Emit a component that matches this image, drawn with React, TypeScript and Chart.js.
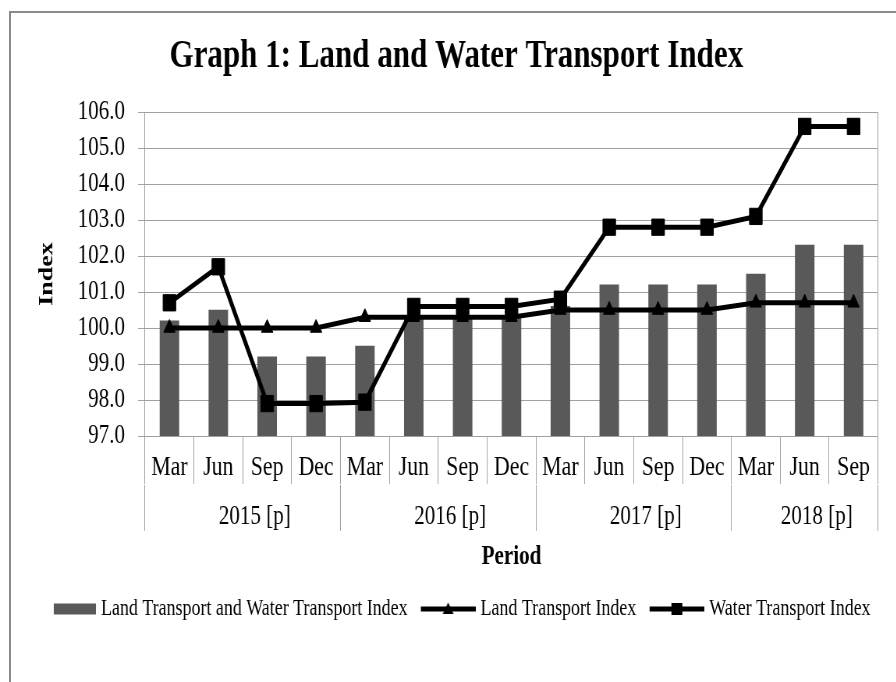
import React, { useEffect, useRef } from 'react';
import { Chart, registerables } from 'chart.js';

Chart.register(...registerables);

// ---------- data ----------
const months = ['Mar', 'Jun', 'Sep', 'Dec', 'Mar', 'Jun', 'Sep', 'Dec', 'Mar', 'Jun', 'Sep', 'Dec', 'Mar', 'Jun', 'Sep'];
const years = ['2015 [p]', '2016 [p]', '2017 [p]', '2018 [p]'];
const monthsPerYear = [4, 4, 4, 3];
const combinedIndex = [100.2, 100.5, 99.2, 99.2, 99.5, 100.3, 100.3, 100.3, 100.6, 101.2, 101.2, 101.2, 101.5, 102.3, 102.3];
const landIndex = [100.0, 100.0, 100.0, 100.0, 100.3, 100.3, 100.3, 100.3, 100.5, 100.5, 100.5, 100.5, 100.7, 100.7, 100.7];
const waterIndex = [100.7, 101.7, 97.9, 97.9, 97.94, 100.6, 100.6, 100.6, 100.8, 102.8, 102.8, 102.8, 103.1, 105.6, 105.6];
const yMin = 97;
const yMax = 106;
const yStep = 1;
const seriesNames = ['Land Transport and Water Transport Index', 'Land Transport Index', 'Water Transport Index'];
const titleText = 'Graph 1: Land and Water Transport Index';
const yTitle = 'Index';
const xTitle = 'Period';

// ---------- layout / style ----------
const S = 0.78; // horizontal squeeze of the whole picture
const W = 1160;
const H = 682;
const px = (screenX: number) => screenX / S;
const FONT = "'Liberation Serif', 'Times New Roman', serif";
const GRID = '#a0a0a0';
const BAR = '#595959';
const PAD_L = 20;
const PAD_R = 10;
const PLOT_LEFT = px(145);
const PLOT_RIGHT = px(878);
const LEG_BOX = 64;
const LEG_IMG = 74;

function legendSymbol(kind: 'bar' | 'tri' | 'sq'): HTMLCanvasElement {
  const c = document.createElement('canvas');
  c.width = LEG_IMG;
  c.height = 20;
  const g = c.getContext('2d')!;
  if (kind === 'bar') {
    g.fillStyle = BAR;
    g.fillRect(LEG_IMG - 54, 4.5, 54, 11);
  } else {
    const x0 = LEG_IMG - 70;
    const cx = x0 + 35;
    g.strokeStyle = '#000';
    g.lineWidth = 5;
    g.beginPath();
    g.moveTo(x0, 10);
    g.lineTo(LEG_IMG, 10);
    g.stroke();
    g.fillStyle = '#000';
    if (kind === 'tri') {
      g.beginPath();
      g.moveTo(cx, 3.5);
      g.lineTo(cx + 7, 15);
      g.lineTo(cx - 7, 15);
      g.closePath();
      g.fill();
    } else {
      g.fillRect(cx - 7, 4, 14, 12);
    }
  }
  return c;
}

export default function App() {
  const ref = useRef<HTMLCanvasElement | null>(null);

  useEffect(() => {
    const canvas = ref.current!;
    // year group ticks (centres + boundaries) derived from monthsPerYear
    const yearCenters: number[] = [];
    const boundaries: number[] = [-0.5];
    let start = 0;
    monthsPerYear.forEach((c) => {
      yearCenters.push(start + (c - 1) / 2);
      start += c;
      boundaries.push(start - 0.5);
    });
    const yearTicks = [...boundaries, ...yearCenters].sort((a, b) => a - b);
    const isBoundary = (v: number) => boundaries.some((b) => Math.abs(b - v) < 1e-6);
    const yearLabel = (v: number) => {
      const i = yearCenters.findIndex((c) => Math.abs(c - v) < 1e-6);
      return i >= 0 ? years[i] : '';
    };

    const symbols = [legendSymbol('bar'), legendSymbol('tri'), legendSymbol('sq')];

    const chart = new Chart(canvas, {
      type: 'bar',
      data: {
        labels: months,
        datasets: [
          {
            type: 'bar',
            label: seriesNames[0],
            data: combinedIndex,
            backgroundColor: BAR,
            barThickness: px(19),
            order: 3,
            xAxisID: 'x',
            yAxisID: 'y',
          },
          {
            type: 'line',
            label: seriesNames[1],
            data: landIndex,
            borderColor: '#000',
            backgroundColor: '#000',
            borderWidth: 5,
            pointStyle: 'triangle',
            pointRadius: 8.5,
            pointBackgroundColor: '#000',
            pointBorderColor: '#000',
            pointBorderWidth: 1,
            tension: 0,
            order: 2,
            xAxisID: 'x',
            yAxisID: 'y',
          },
          {
            type: 'line',
            label: seriesNames[2],
            data: waterIndex,
            borderColor: '#000',
            backgroundColor: '#000',
            borderWidth: 5,
            pointStyle: 'rect',
            pointRadius: 11.5,
            pointBackgroundColor: '#000',
            pointBorderColor: '#000',
            pointBorderWidth: 1,
            tension: 0,
            order: 1,
            xAxisID: 'x',
            yAxisID: 'y',
          },
        ],
      } as any,
      options: {
        animation: false,
        responsive: false,
        devicePixelRatio: 1,
        layout: { padding: { left: PAD_L, right: PAD_R, top: 0, bottom: 51.5 } },
        plugins: {
          tooltip: { enabled: false },
          title: {
            display: true,
            text: titleText,
            color: '#000',
            font: { family: FONT, size: 39.8, weight: 'bold' },
            padding: { top: 33, bottom: 31.24 },
          },
          legend: {
            display: true,
            position: 'bottom',
            labels: {
              usePointStyle: true,
              pointStyleWidth: LEG_BOX,
              padding: 18,
              color: '#000',
              font: { family: FONT, size: 23 },
              generateLabels: () =>
                seriesNames.map((name, i) => ({
                  text: name,
                  fillStyle: i === 0 ? BAR : '#000',
                  strokeStyle: i === 0 ? BAR : '#000',
                  lineWidth: 0,
                  pointStyle: symbols[i],
                  hidden: false,
                  datasetIndex: i,
                  fontColor: '#000',
                })),
            },
          },
        },
        scales: {
          x: {
            type: 'category',
            position: 'bottom',
            offset: true,
            weight: 0,
            afterFit: (scale: any) => {
              scale.height = 48.8;
            },
            grid: { display: true, offset: true, drawOnChartArea: false, drawTicks: true, tickLength: 48, color: GRID, lineWidth: 1 },
            border: { display: true, color: GRID, width: 1 },
            ticks: {
              autoSkip: false,
              maxRotation: 0,
              minRotation: 0,
              padding: -32.8,
              color: '#000',
              font: { family: FONT, size: 28 },
            },
          },
          x2: {
            type: 'linear',
            axis: 'x',
            position: 'bottom',
            weight: 1,
            min: -0.5,
            max: 14.5,
            bounds: 'data',
            offset: false,
            afterBuildTicks: (scale: any) => {
              scale.ticks = yearTicks.map((v) => ({ value: v }));
            },
            afterFit: (scale: any) => {
              scale.height = 94.7;
            },
            grid: {
              display: true,
              offset: false,
              drawOnChartArea: false,
              drawTicks: true,
              tickLength: 46,
              lineWidth: 1,
              color: (ctx: any) => (ctx.tick && isBoundary(ctx.tick.value) ? GRID : 'rgba(0,0,0,0)'),
            },
            border: { display: false },
            ticks: {
              autoSkip: false,
              maxRotation: 0,
              minRotation: 0,
              padding: -29.6,
              labelOffset: px(12),
              color: '#000',
              font: { family: FONT, size: 27 },
              callback: (v: any) => yearLabel(Number(v)),
            },
            title: {
              display: true,
              text: xTitle,
              color: '#000',
              font: { family: FONT, size: 27, weight: 'bold' },
              padding: { top: 6, bottom: 6.3 },
            },
          },
          y: {
            type: 'linear',
            position: 'left',
            min: yMin,
            max: yMax,
            afterFit: (scale: any) => {
              scale.width = PLOT_LEFT - PAD_L;
            },
            grid: { display: true, drawTicks: true, tickLength: px(7), color: GRID, lineWidth: 1 },
            border: { display: true, color: GRID, width: 1 },
            ticks: {
              stepSize: yStep,
              padding: 16.6,
              color: '#000',
              font: { family: FONT, size: 27 },
              callback: (v: any) => Number(v).toFixed(1),
            },
            title: {
              display: true,
              text: yTitle,
              color: '#000',
              font: { family: FONT, size: 26, weight: 'bold' },
              padding: { top: 25, bottom: 0 },
            },
          },
          y2: {
            type: 'linear',
            position: 'right',
            min: yMin,
            max: yMax,
            afterFit: (scale: any) => {
              scale.width = W - PAD_R - PLOT_RIGHT;
            },
            grid: { display: true, drawOnChartArea: false, drawTicks: false },
            border: { display: true, color: GRID, width: 1 },
            ticks: { display: false },
          },
        },
      } as any,
    });
    return () => chart.destroy();
  }, []);

  return (
    <div style={{ position: 'fixed', left: 0, top: 0, width: 896, height: 682, overflow: 'hidden', background: '#fff' }}>
      <div
        style={{
          position: 'absolute',
          left: 9,
          top: 11,
          width: 2000,
          height: 2000,
          borderLeft: '2px solid #8a8a8a',
          borderTop: '2px solid #8a8a8a',
        }}
      />
      <canvas
        ref={ref}
        width={W}
        height={H}
        style={{
          position: 'absolute',
          left: 0,
          top: 0,
          width: W,
          height: H,
          transform: `scaleX(${S})`,
          transformOrigin: '0 0',
        }}
      />
    </div>
  );
}
